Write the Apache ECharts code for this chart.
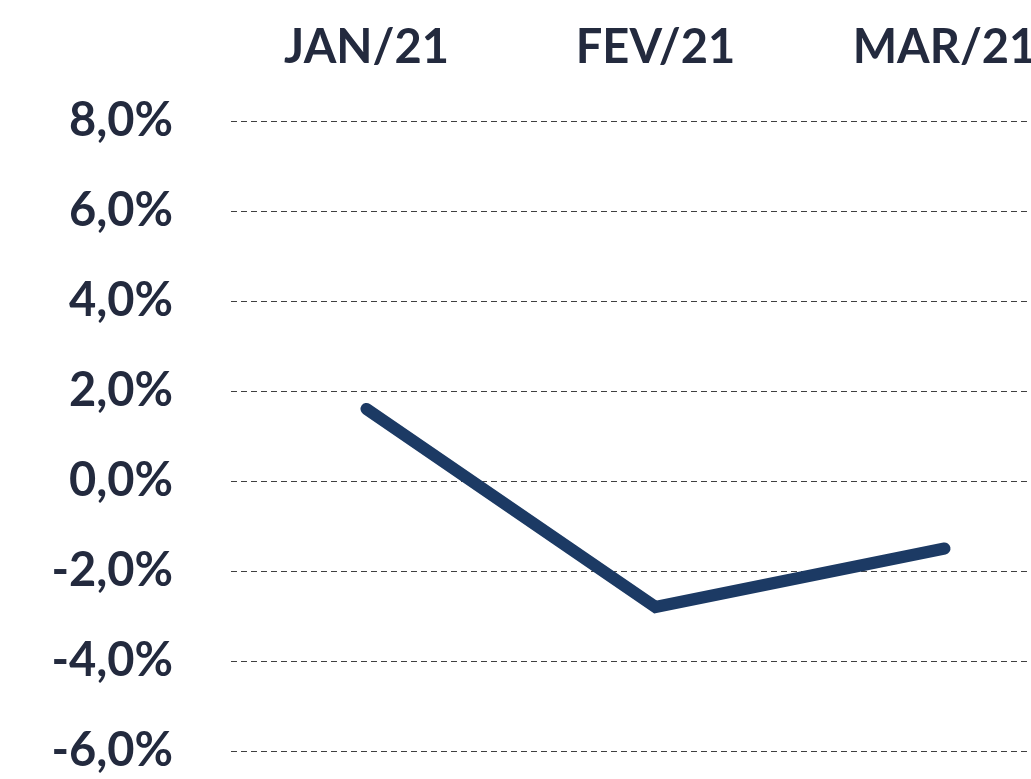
<!DOCTYPE html>
<html><head><meta charset="utf-8">
<script src="https://cdn.jsdelivr.net/npm/echarts@6/dist/echarts.min.js"></script>
<style>html,body{margin:0;padding:0;background:#fff}#c{width:1031px;height:779px}</style>
</head><body><div id="c"></div>
<script>
const categories = ['JAN/21', 'FEV/21', 'MAR/21'];
const values = [1.6, -2.8, -1.5];
const yMin = -6, yMax = 8, yStep = 2;

const textColor = '#232a3e';
const font = 'Lato';
const chart = echarts.init(document.getElementById('c'));
chart.setOption({
  animation: false,
  grid: [
    { left: 231, top: 121, right: 0, bottom: 28, outerBoundsMode: 'none' },
    { left: 222, top: 121, right: -58, bottom: 28, outerBoundsMode: 'none' }
  ],
  xAxis: [
    { type: 'category', gridIndex: 0, data: categories, show: false },
    { type: 'category', gridIndex: 1, position: 'top', data: categories,
      axisLine: { show: false }, axisTick: { show: false },
      axisLabel: { color: textColor, fontFamily: font, fontWeight: 'bold', fontSize: 47, margin: 50 } }
  ],
  yAxis: [
    { type: 'value', gridIndex: 0, min: yMin, max: yMax, interval: yStep,
      axisLine: { show: false }, axisTick: { show: false },
      axisLabel: { color: textColor, fontFamily: font, fontWeight: 'bold', fontSize: 47, margin: 58,
        formatter: v => v.toFixed(1).replace('.', ',') + '%' },
      splitLine: { show: true, lineStyle: { color: '#404040', width: 1, type: [6, 4] } } },
    { type: 'value', gridIndex: 1, min: yMin, max: yMax, interval: yStep, show: false,
      splitLine: { show: false } }
  ],
  series: [{
    type: 'line', xAxisIndex: 1, yAxisIndex: 1, data: values,
    symbol: 'none', lineStyle: { color: '#1c3a64', width: 12, cap: 'round', join: 'miter' }
  }]
});
</script></body></html>
